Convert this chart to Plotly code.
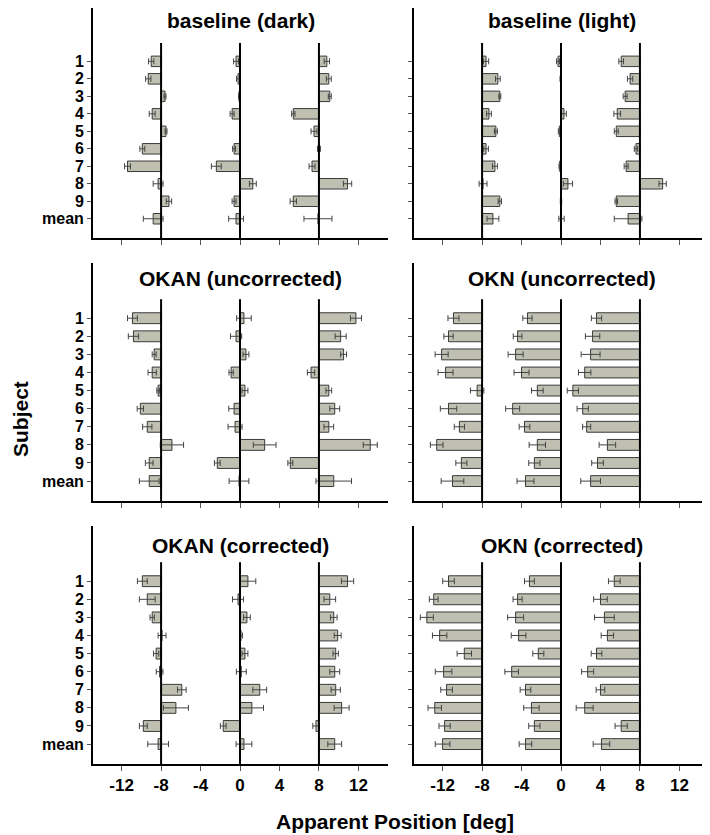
import plotly.graph_objects as go
from plotly.subplots import make_subplots

# subjects (rows) and the three target positions [deg]
subjects = ['1', '2', '3', '4', '5', '6', '7', '8', '9', 'mean']
rows = list(range(1, 11))
targets = [-8, 0, 8]
xticks = [-12, -8, -4, 0, 4, 8, 12]

# apparent position per target (-8, 0, 8) and its error
dark_pos = [[-9.0, -9.3, -7.6, -8.9, -7.5, -9.9, -11.4, -8.3, -7.2, -8.8],
            [-0.4, -0.2, -0.1, -0.8, 0.0, -0.6, -2.4, 1.3, -0.6, -0.4],
            [8.8, 9.0, 9.1, 5.4, 7.5, 8.0, 7.3, 10.9, 5.4, 7.9]]
dark_err = [[0.27, 0.27, 0.1, 0.3, 0.1, 0.25, 0.3, 0.5, 0.27, 1.0],
            [0.25, 0.15, 0.05, 0.2, 0.05, 0.15, 0.5, 0.35, 0.2, 0.75],
            [0.27, 0.25, 0.15, 0.17, 0.3, 0.15, 0.3, 0.42, 0.32, 1.42]]

light_pos = [[-7.6, -6.4, -6.2, -7.3, -6.6, -7.6, -6.7, -7.9, -6.2, -6.9],
             [-0.3, -0.05, 0.0, 0.3, -0.17, 0.0, -0.13, 0.7, 0.0, 0.05],
             [6.1, 7.0, 6.5, 5.7, 5.6, 7.6, 6.6, 10.3, 5.6, 6.8]]
light_err = [[0.27, 0.24, 0.1, 0.24, 0.15, 0.24, 0.25, 0.4, 0.17, 0.6],
             [0.15, 0.05, 0.03, 0.24, 0.1, 0.03, 0.07, 0.47, 0.07, 0.27],
             [0.24, 0.27, 0.2, 0.34, 0.2, 0.17, 0.2, 0.37, 0.13, 1.4]]

okan_unc_pos = [[-10.9, -10.8, -8.7, -8.9, -8.3, -10.1, -9.4, -6.9, -9.2, -9.2],
                [0.4, -0.4, 0.6, -0.9, 0.5, -0.6, -0.5, 2.5, -2.3, -0.1],
                [11.75, 10.2, 10.5, 7.2, 9.0, 9.6, 9.0, 13.2, 5.1, 9.5]]
okan_unc_err = [[0.5, 0.52, 0.2, 0.42, 0.13, 0.32, 0.47, 1.18, 0.39, 1.0],
                [0.74, 0.57, 0.3, 0.22, 0.3, 0.54, 0.71, 1.15, 0.29, 1.0],
                [0.56, 0.56, 0.3, 0.37, 0.29, 0.5, 0.49, 0.71, 0.25, 1.8]]

okn_unc_pos = [[-10.9, -11.4, -12.1, -11.7, -8.5, -11.4, -10.3, -12.6, -10.1, -11.0],
               [-3.4, -4.4, -4.6, -4.0, -2.4, -4.9, -3.7, -2.4, -2.7, -3.6],
               [3.6, 3.2, 3.0, 2.4, 1.2, 2.2, 2.6, 4.7, 3.7, 3.0]]
okn_unc_err = [[0.56, 0.47, 0.66, 0.76, 0.68, 0.83, 0.52, 0.64, 0.56, 1.15],
               [0.47, 0.44, 0.76, 0.76, 0.59, 0.71, 0.54, 0.83, 0.57, 0.86],
               [0.52, 0.73, 0.96, 0.63, 0.57, 0.57, 0.41, 0.84, 0.59, 1.0]]

okan_cor_pos = [[-9.9, -9.4, -8.9, -7.9, -8.5, -8.15, -5.9, -6.5, -9.8, -8.3],
                [0.8, -0.2, 0.7, 0.1, 0.5, 0.13, 2.0, 1.2, -1.7, 0.4],
                [10.9, 9.1, 9.5, 9.9, 9.7, 9.6, 9.7, 10.3, 7.7, 9.6]]
okan_cor_err = [[0.5, 0.8, 0.22, 0.4, 0.27, 0.34, 0.44, 1.27, 0.4, 1.05],
                [0.8, 0.56, 0.34, 0.15, 0.3, 0.5, 0.7, 1.18, 0.29, 0.8],
                [0.62, 0.59, 0.34, 0.35, 0.27, 0.5, 0.47, 0.76, 0.32, 0.7]]

okn_cor_pos = [[-11.4, -12.9, -13.6, -12.3, -9.8, -11.9, -11.6, -12.8, -11.8, -12.0],
               [-3.2, -4.4, -4.6, -4.3, -2.3, -5.0, -3.6, -3.0, -2.7, -3.6],
               [5.4, 4.0, 4.4, 4.7, 3.6, 2.7, 4.0, 2.4, 6.1, 4.1]]
okn_cor_err = [[0.59, 0.44, 0.66, 0.73, 0.73, 0.84, 0.59, 0.68, 0.57, 0.74],
               [0.5, 0.46, 0.81, 0.74, 0.56, 0.69, 0.54, 0.78, 0.57, 0.64],
               [0.59, 0.69, 1.0, 0.63, 0.54, 0.61, 0.44, 0.86, 0.62, 0.84]]

panels = [('baseline (dark)', dark_pos, dark_err),
          ('baseline (light)', light_pos, light_err),
          ('OKAN (uncorrected)', okan_unc_pos, okan_unc_err),
          ('OKN (uncorrected)', okn_unc_pos, okn_unc_err),
          ('OKAN (corrected)', okan_cor_pos, okan_cor_err),
          ('OKN (corrected)', okn_cor_pos, okn_cor_err)]

# the page puts the plot 8px in from the top-left corner, so size it to what is visible
OFF = 8
W, H = 710 - OFF, 835 - OFF
FONT = 'Arial, Liberation Sans, sans-serif'
bar_fill = '#c0c0b2'


def px(x):
    return (x - OFF) / W


def py(y):
    return min(1.0, 1 - (y - OFF) / H)


x_dom = {1: [px(93), px(388)], 2: [px(414), px(709)]}
y_dom = {1: [py(238), py(0)], 2: [py(501), py(263)], 3: [py(764), py(526)]}
title_y = {1: py(20), 2: py(278), 3: py(545)}

fig = make_subplots(rows=3, cols=2)

for k, (title, pos, err) in enumerate(panels):
    r, c = k // 2 + 1, k % 2 + 1
    for t, p, e in zip(targets, pos, err):
        fig.add_trace(go.Bar(
            y=rows, x=[v - t for v in p], base=t, orientation='h', width=0.6,
            marker=dict(color=bar_fill, line=dict(color='#3a3a3a', width=1)),
            error_x=dict(type='data', array=e, color='#444444', thickness=1, width=3),
            showlegend=False), row=r, col=c)
    for t in targets:
        fig.add_shape(type='line', x0=t, x1=t, y0=-0.05, y1=11.1,
                      line=dict(color='black', width=2), row=r, col=c)
    fig.update_xaxes(domain=x_dom[c], row=r, col=c)
    fig.update_yaxes(domain=y_dom[r], row=r, col=c)
    fig.add_annotation(text='<b>' + title + '</b>', xref='paper', yref='paper',
                       x=sum(x_dom[c]) / 2, y=title_y[r], xanchor='center', yanchor='middle',
                       showarrow=False, font=dict(family=FONT, size=21, color='black'))

fig.update_xaxes(range=[-14.9, 15], tickvals=xticks, ticktext=['<b>%d</b>' % v for v in xticks],
                 ticks='outside', ticklen=5, tickcolor='#555555',
                 showline=True, linecolor='black', linewidth=2,
                 showgrid=False, zeroline=False, showticklabels=False,
                 tickfont=dict(family=FONT, size=17, color='black'))
fig.update_xaxes(showticklabels=True, row=3)

fig.update_yaxes(range=[11.1, -2.05], tickvals=rows, ticktext=['<b>%s</b>' % s for s in subjects],
                 ticks='outside', ticklen=4, tickcolor='#555555',
                 showline=True, linecolor='black', linewidth=2,
                 showgrid=False, zeroline=False, showticklabels=False,
                 tickfont=dict(family=FONT, size=16, color='black'))
fig.update_yaxes(showticklabels=True, col=1)

fig.add_annotation(text='<b>Apparent Position [deg]</b>', xref='paper', yref='paper',
                   x=px(395), y=py(821), xanchor='center', yanchor='middle', showarrow=False,
                   font=dict(family=FONT, size=21, color='black'))
fig.add_annotation(text='<b>Subject</b>', xref='paper', yref='paper',
                   x=px(20), y=py(419), xanchor='center', yanchor='middle',
                   showarrow=False, textangle=-90,
                   font=dict(family=FONT, size=21, color='black'))

fig.update_layout(width=W, height=H, margin=dict(l=0, r=0, t=0, b=0),
                  barmode='overlay', plot_bgcolor='white', paper_bgcolor='white')

fig.write_html("out.html")
